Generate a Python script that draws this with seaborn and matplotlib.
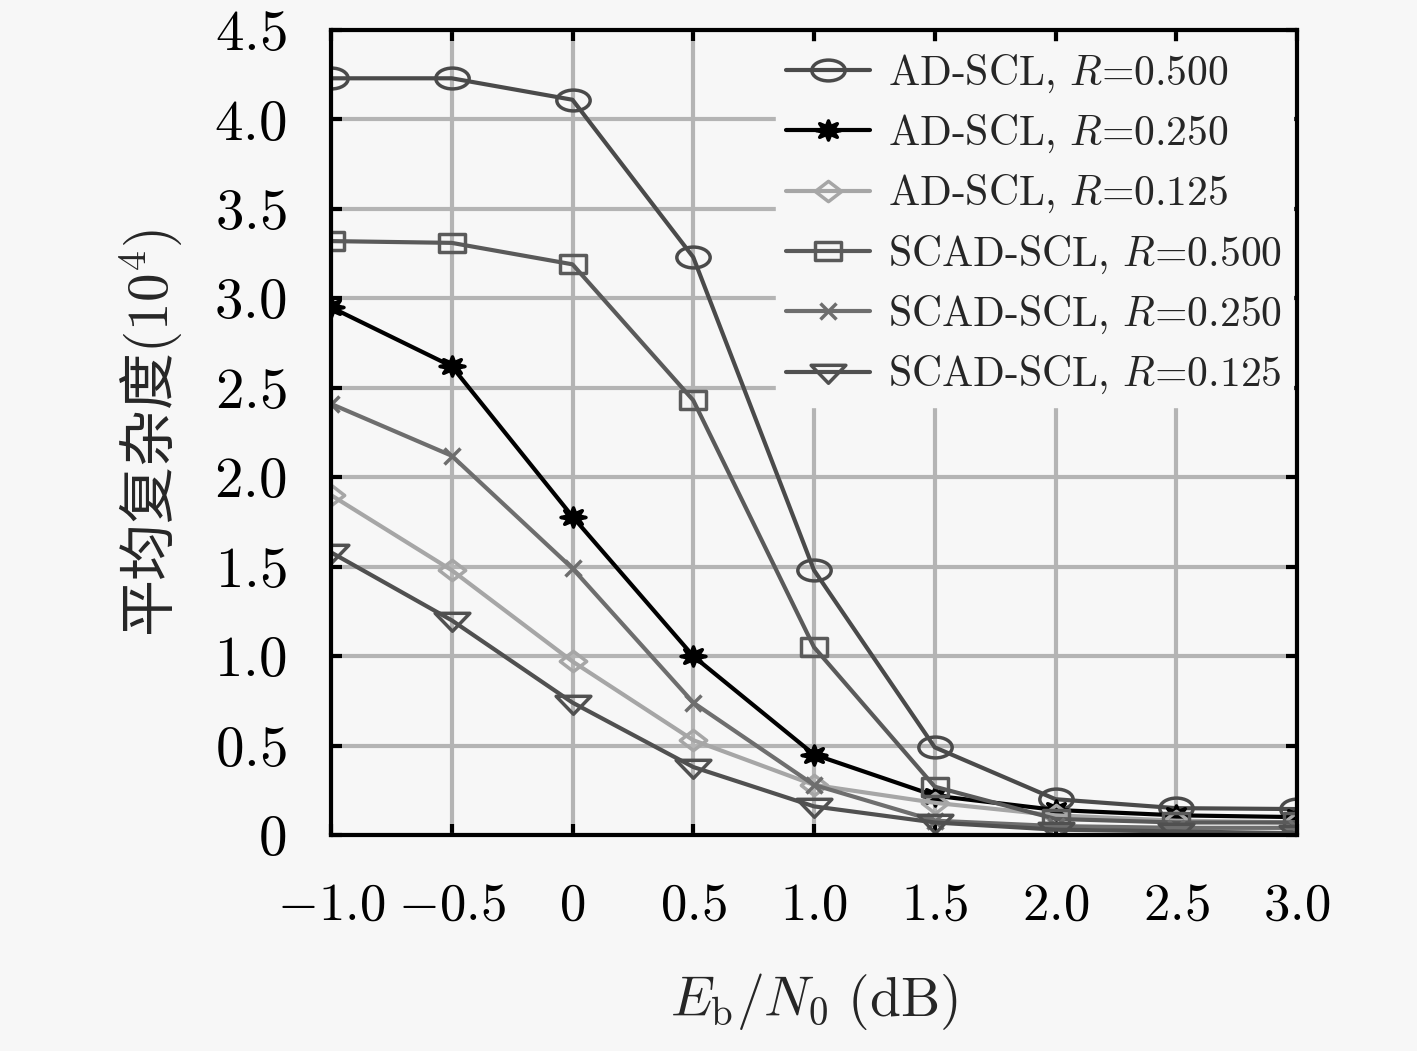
import numpy as np
import pandas as pd
import seaborn as sns
import matplotlib.pyplot as plt
from matplotlib.path import Path
from matplotlib.transforms import Affine2D

# data
snr = [-1.0, -0.5, 0.0, 0.5, 1.0, 1.5, 2.0, 2.5, 3.0]
ad_500 = [4.23, 4.23, 4.11, 3.23, 1.48, 0.49, 0.20, 0.15, 0.145]
ad_250 = [2.95, 2.62, 1.78, 1.00, 0.45, 0.22, 0.14, 0.11, 0.10]
ad_125 = [1.90, 1.48, 0.97, 0.53, 0.28, 0.18, 0.11, 0.08, 0.07]
scad_500 = [3.32, 3.31, 3.19, 2.43, 1.05, 0.27, 0.09, 0.07, 0.07]
scad_250 = [2.41, 2.12, 1.49, 0.74, 0.28, 0.08, 0.05, 0.04, 0.04]
scad_125 = [1.58, 1.20, 0.74, 0.38, 0.16, 0.07, 0.03, 0.02, 0.01]
labels = ['AD-SCL, $R$=0.500', 'AD-SCL, $R$=0.250', 'AD-SCL, $R$=0.125',
          'SCAD-SCL, $R$=0.500', 'SCAD-SCL, $R$=0.250', 'SCAD-SCL, $R$=0.125']
xticks = [-1.0, -0.5, 0, 0.5, 1.0, 1.5, 2.0, 2.5, 3.0]
xtick_labels = ['$-1.0$', '$-0.5$', '$0$', '$0.5$', '$1.0$', '$1.5$', '$2.0$', '$2.5$', '$3.0$']
yticks = [0, 0.5, 1.0, 1.5, 2.0, 2.5, 3.0, 3.5, 4.0, 4.5]
ytick_labels = ['$0$', '$0.5$', '$1.0$', '$1.5$', '$2.0$', '$2.5$', '$3.0$', '$3.5$', '$4.0$', '$4.5$']

sns.set_style('ticks')
plt.rcParams['font.family'] = ['cmr10', 'DejaVu Serif']
plt.rcParams['mathtext.fontset'] = 'cm'
plt.rcParams['axes.unicode_minus'] = False


# markers in the reference look stretched sideways
def wide(path, sx=1.45):
    return Path(Affine2D().scale(sx, 1.0).transform(path.vertices), path.codes)


ellipse = wide(Path.unit_circle(), 1.6)
square = wide(Path.unit_rectangle().transformed(Affine2D().translate(-0.5, -0.5)))
tri_down = wide(Path([(-1, 0.6), (1, 0.6), (0, -0.9), (-1, 0.6)], closed=True))
diamond = wide(Path([(0, 1), (1, 0), (0, -1), (-1, 0), (0, 1)], closed=True), 1.3)
star = wide(Path.unit_regular_star(8, 0.45), 1.3)

series = [ad_500, ad_250, ad_125, scad_500, scad_250, scad_125]
colors = ['#4a4a4a', '#000000', '#a6a6a6', '#5a5a5a', '#6e6e6e', '#505050']
markers = [ellipse, star, diamond, square, 'x', tri_down]
msizes = [24, 18, 19, 19, 12, 25]
filled = [False, True, False, False, True, False]

bg = '#f7f7f7'
fig = plt.figure(figsize=(14.17, 10.51), dpi=100, facecolor=bg)
ax = fig.add_axes([331 / 1417, 1 - 835 / 1051, (1297 - 331) / 1417, (835 - 30) / 1051])
ax.set_facecolor(bg)

for vals, lab, c, m, ms, f in zip(series, labels, colors, markers, msizes, filled):
    df = pd.DataFrame({'x': snr, 'y': vals})
    sns.lineplot(data=df, x='x', y='y', ax=ax, color=c, lw=3, label=lab,
                 marker=m, markersize=ms, markeredgewidth=2.5,
                 markeredgecolor=c, markerfacecolor=(c if f else 'none'))

ax.set_xlim(-1.0, 3.0)
ax.set_ylim(0, 4.5)
ax.set_xticks(xticks)
ax.set_xticklabels(xtick_labels)
ax.set_yticks(yticks)
ax.set_yticklabels(ytick_labels)
ax.grid(True, color='#b4b4b4', lw=3)
ax.set_axisbelow(True)
ax.tick_params(direction='in', length=8, width=3, top=True, right=True, colors='black')
ax.tick_params(axis='x', labelsize=38, pad=34)
ax.tick_params(axis='y', labelsize=41, pad=32)
for s in ax.spines.values():
    s.set_linewidth(3)
    s.set_color('black')

ax.set_xlabel(r'$E_\mathrm{b}/N_0\ \mathrm{(dB)}$', fontsize=40, labelpad=30)
ax.set_ylabel('平均复杂度$(10^4)$', fontsize=41, labelpad=22,
              family=['Noto Sans CJK SC', 'DejaVu Sans'])

leg = ax.legend(loc='upper right', bbox_to_anchor=(1.0, 0.99), fontsize=30,
                frameon=True, facecolor=bg, edgecolor=bg, framealpha=1,
                handlelength=2.0, handletextpad=0.45, labelspacing=0.43,
                borderpad=0.25, borderaxespad=0.1)

fig.savefig('out.png', dpi=100, facecolor=bg)
